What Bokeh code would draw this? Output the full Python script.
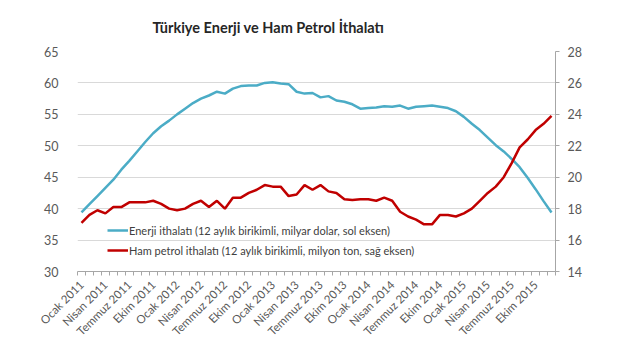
import math
from bokeh.plotting import figure
from bokeh.models import Range1d, LinearAxis, FixedTicker, Legend, LegendItem
from bokeh.embed import file_html
from bokeh.resources import INLINE

months = ["Ocak", "Şubat", "Mart", "Nisan", "Mayıs", "Haziran", "Temmuz",
          "Ağustos", "Eylül", "Ekim", "Kasım", "Aralık"]
years = [2011, 2012, 2013, 2014, 2015]
categories = [f"{m} {y}" for y in years for m in months]

energy = [39.4, 40.7, 42.0, 43.3, 44.6, 46.2, 47.6, 49.1, 50.6, 52.0,
          53.1, 54.0, 55.0, 55.9, 56.8, 57.5, 58.0, 58.6, 58.3, 59.1,
          59.5, 59.6, 59.6, 60.0, 60.1, 59.9, 59.8, 58.6, 58.3, 58.4,
          57.7, 57.9, 57.2, 57.0, 56.6, 55.9, 56.0, 56.1, 56.3, 56.2,
          56.4, 55.9, 56.2, 56.3, 56.4, 56.2, 56.0, 55.5, 54.6, 53.5,
          52.5, 51.3, 50.1, 49.1, 47.9, 46.6, 44.9, 43.1, 41.2, 39.4]

crude = [17.1, 17.6, 17.9, 17.7, 18.1, 18.1, 18.4, 18.4, 18.4, 18.5,
         18.3, 18.0, 17.9, 18.0, 18.3, 18.5, 18.1, 18.5, 18.0, 18.7,
         18.7, 19.0, 19.2, 19.5, 19.4, 19.4, 18.8, 18.9, 19.5, 19.2,
         19.5, 19.1, 19.0, 18.6, 18.55, 18.6, 18.6, 18.5, 18.7, 18.5,
         17.8, 17.5, 17.3, 17.0, 17.0, 17.6, 17.6, 17.5, 17.7, 18.0,
         18.5, 19.0, 19.4, 20.0, 20.9, 21.9, 22.4, 23.0, 23.4, 23.9]

left_ticks = [30, 35, 40, 45, 50, 55, 60, 65]
right_ticks = [14, 16, 18, 20, 22, 24, 26, 28]
label_idx = list(range(0, 60, 3))

title_text = "Türkiye Enerji ve Ham Petrol İthalatı"
energy_label = "Enerji ithalatı (12 aylık birikimli, milyar dolar, sol eksen)"
crude_label = "Ham petrol ithalatı (12 aylık birikimli, milyon ton, sağ eksen)"

x = list(range(len(categories)))

FONT = "Lato"
GREY = "#595959"

p = figure(width=624, height=351, output_backend="svg", toolbar_location=None,
           x_range=Range1d(-0.5, len(categories) - 0.5),
           y_range=Range1d(30, 65),
           min_border_left=77, min_border_right=69, min_border_top=51,
           min_border_bottom=80)
p.outline_line_color = None
p.background_fill_color = "white"
p.border_fill_color = "white"

p.title.text = title_text
p.title.text_font = FONT
p.title.text_font_size = "14.5px"
p.title.text_font_style = "bold"
p.title.text_color = "#262626"
p.title.align = "left"
p.title.offset = 75
p.title.standoff = 31

p.extra_y_ranges = {"r": Range1d(14, 28)}

# grid
p.xgrid.grid_line_color = None
p.ygrid.grid_line_color = "#d9d9d9"
p.ygrid.ticker = FixedTicker(ticks=left_ticks)

# left axis
ya = p.yaxis[0]
ya.ticker = FixedTicker(ticks=left_ticks)
ya.axis_line_color = None
ya.major_tick_line_color = None
ya.minor_tick_line_color = None
ya.major_label_text_font = FONT
ya.major_label_text_font_size = "12.5px"
ya.major_label_text_color = GREY
ya.major_label_standoff = 13

# right axis
ra = LinearAxis(y_range_name="r", ticker=FixedTicker(ticks=right_ticks))
ra.axis_line_color = "#a6a6a6"
ra.major_tick_line_color = "#a6a6a6"
ra.major_tick_out = 4
ra.major_tick_in = 0
ra.minor_tick_line_color = None
ra.major_label_text_font = FONT
ra.major_label_text_font_size = "12.5px"
ra.major_label_text_color = GREY
ra.major_label_standoff = 8
p.add_layout(ra, "right")

# x axis
xa = p.xaxis[0]
xa.ticker = FixedTicker(ticks=label_idx,
                        minor_ticks=[i - 0.5 for i in range(len(categories) + 1)])
xa.major_label_overrides = {i: categories[i] for i in label_idx}
xa.major_label_orientation = math.pi / 4
xa.major_label_text_font = FONT
xa.major_label_text_font_size = "11.5px"
xa.major_label_text_color = GREY
xa.major_label_standoff = 5
xa.axis_line_color = "#a6a6a6"
xa.major_tick_line_color = None
xa.minor_tick_line_color = "#a6a6a6"
xa.minor_tick_out = 4
xa.minor_tick_in = 0

r1 = p.line(x, energy, line_color="#4bacc6", line_width=2.5)
r2 = p.line(x, crude, line_color="#c00000", line_width=2.5, y_range_name="r")

legend = Legend(items=[LegendItem(label=energy_label, renderers=[r1]),
                       LegendItem(label=crude_label, renderers=[r2])],
                location=(30, 11))
legend.background_fill_alpha = 0
legend.border_line_color = None
legend.padding = 0
legend.margin = 0
legend.spacing = 0
legend.glyph_width = 21
legend.glyph_height = 20
legend.label_height = 20
legend.label_standoff = 1
legend.label_text_font = FONT
legend.label_text_font_size = "11px"
legend.label_text_color = "#404040"
p.add_layout(legend, "center")

open("out.html", "w").write(file_html(p, INLINE))
